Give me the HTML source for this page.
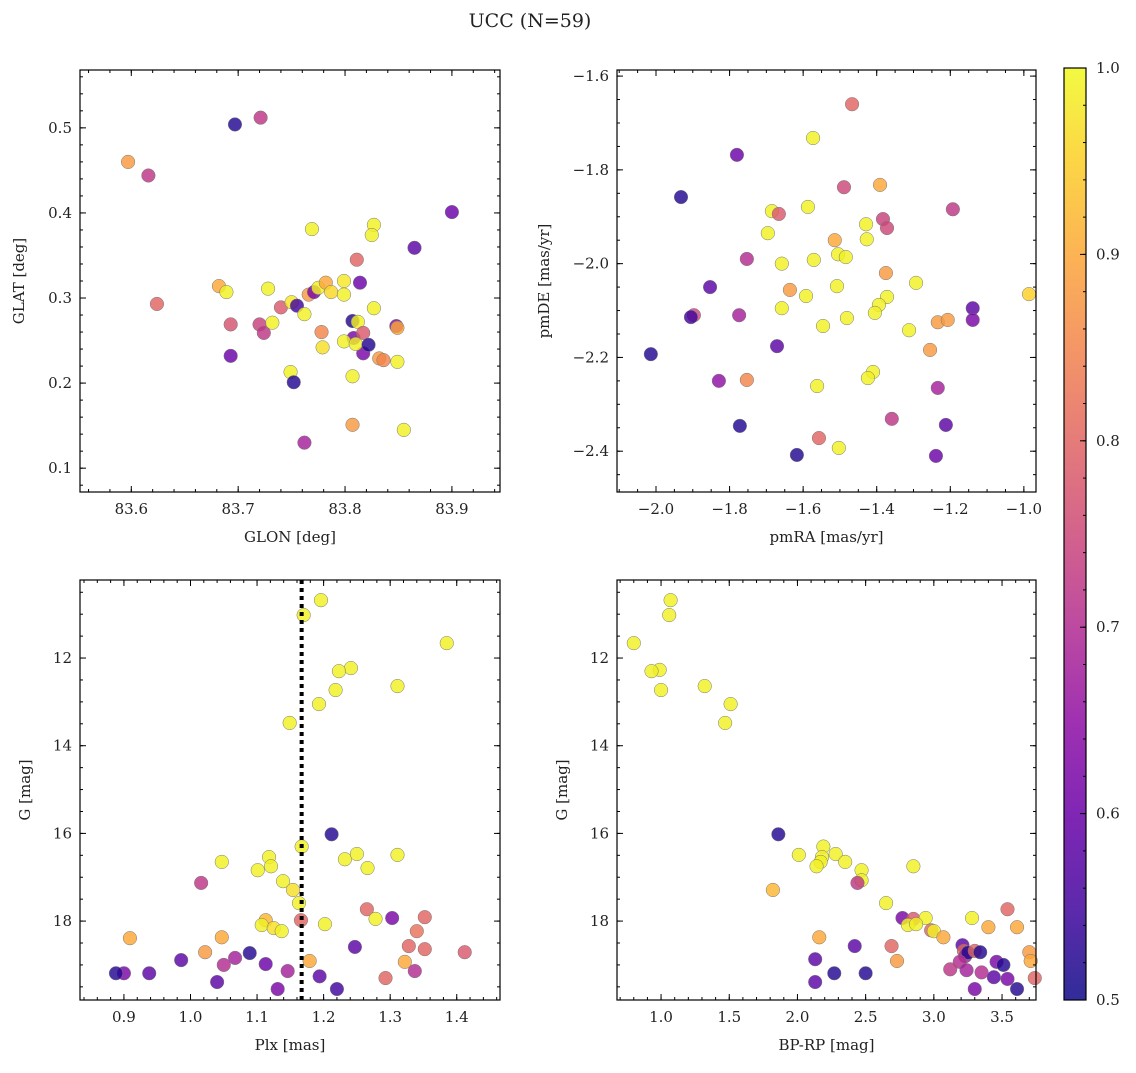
<!DOCTYPE html>
<html><head><meta charset="utf-8">
<style>
body{margin:0;background:#fff;}
svg text{font-family:"DejaVu Serif","Liberation Serif",serif;fill:#222;}
</style></head>
<body>
<svg id="fig" width="1136" height="1068" xmlns="http://www.w3.org/2000/svg">
<defs>
<linearGradient id="cbgrad" x1="0" y1="1" x2="0" y2="0">
<stop offset="0" stop-color="#0d0887"/><stop offset="0.1" stop-color="#41049d"/><stop offset="0.2" stop-color="#6a00a8"/><stop offset="0.3" stop-color="#8f0da4"/><stop offset="0.4" stop-color="#b12a90"/><stop offset="0.5" stop-color="#cc4778"/><stop offset="0.6" stop-color="#e16462"/><stop offset="0.7" stop-color="#f2844b"/><stop offset="0.8" stop-color="#fca636"/><stop offset="0.9" stop-color="#fcce25"/><stop offset="1" stop-color="#f0f921"/>
</linearGradient>
</defs>
<text x="530" y="27" font-size="19" text-anchor="middle">UCC (N=59)</text>
</svg>
<script>
// Panel 1: GLON vs GLAT
const glonX=[83.697,83.721,83.597,83.616,83.90,83.865,83.624,83.682,83.689,83.693,83.693,83.72,83.724,83.728,83.732,83.74,83.75,83.755,83.749,83.752,83.762,83.762,83.769,83.766,83.771,83.775,83.778,83.779,83.782,83.787,83.799,83.799,83.807,83.811,83.808,83.812,83.814,83.817,83.817,83.807,83.807,83.799,83.81,83.822,83.827,83.825,83.827,83.832,83.836,83.848,83.849,83.849,83.855];
const glatY=[0.504,0.512,0.46,0.444,0.401,0.359,0.293,0.314,0.307,0.269,0.232,0.269,0.259,0.311,0.271,0.289,0.295,0.291,0.213,0.201,0.281,0.13,0.381,0.304,0.307,0.312,0.26,0.242,0.318,0.307,0.32,0.304,0.273,0.345,0.253,0.272,0.318,0.259,0.235,0.208,0.151,0.249,0.246,0.245,0.386,0.374,0.288,0.229,0.227,0.267,0.265,0.225,0.145];
const glatP=[0.52,0.72,0.88,0.72,0.60,0.58,0.80,0.90,0.99,0.77,0.60,0.74,0.72,0.99,0.99,0.78,0.98,0.55,0.99,0.52,0.99,0.68,0.99,0.88,0.62,0.99,0.85,0.97,0.90,0.96,0.98,0.99,0.52,0.80,0.62,0.99,0.60,0.78,0.62,0.99,0.88,0.99,0.99,0.52,0.99,0.99,0.99,0.88,0.85,0.62,0.90,0.99,0.99];
// Panel 2: pmRA vs pmDE
const pmraX=[-1.467,-1.573,-1.78,-1.932,-1.489,-1.391,-1.685,-1.666,-1.587,-1.193,-1.383,-1.372,-1.429,-1.696,-1.427,-1.514,-1.505,-1.484,-1.571,-1.753,-1.658,-1.375,-1.293,-0.986,-1.853,-1.636,-1.592,-1.508,-1.372,-1.394,-1.405,-1.658,-1.897,-1.905,-1.774,-1.481,-1.546,-1.139,-1.139,-1.234,-1.207,-1.312,-1.671,-1.255,-2.014,-1.41,-1.424,-1.829,-1.753,-1.562,-1.234,-1.359,-1.772,-1.212,-1.557,-1.503,-1.617,-1.239];
const pmdeY=[-1.66,-1.732,-1.768,-1.858,-1.837,-1.832,-1.888,-1.894,-1.879,-1.884,-1.905,-1.924,-1.916,-1.935,-1.948,-1.95,-1.98,-1.986,-1.992,-1.99,-2.0,-2.02,-2.041,-2.065,-2.05,-2.056,-2.069,-2.048,-2.071,-2.088,-2.105,-2.095,-2.11,-2.114,-2.11,-2.116,-2.133,-2.095,-2.12,-2.125,-2.12,-2.142,-2.176,-2.184,-2.193,-2.231,-2.244,-2.25,-2.248,-2.261,-2.265,-2.331,-2.346,-2.344,-2.372,-2.393,-2.408,-2.41];
const pmP=[0.80,0.99,0.60,0.52,0.75,0.90,0.99,0.78,0.99,0.72,0.74,0.75,0.99,0.99,0.99,0.90,0.99,0.99,0.99,0.70,0.99,0.88,0.99,0.95,0.58,0.88,0.99,0.99,0.99,0.99,0.99,0.99,0.75,0.55,0.68,0.99,0.99,0.58,0.62,0.88,0.88,0.99,0.58,0.88,0.52,0.99,0.99,0.65,0.85,0.99,0.68,0.72,0.52,0.58,0.80,0.99,0.52,0.60];
// Panel 3: Plx vs G
const plxX=[1.196,1.17,1.385,1.241,1.223,1.218,1.311,1.193,1.149,1.212,1.167,1.047,1.118,1.121,1.101,1.232,1.25,1.266,1.311,1.016,1.139,1.154,1.163,1.265,1.278,1.303,1.352,1.113,1.166,1.202,1.107,1.125,1.137,1.34,0.909,1.047,1.328,1.352,1.247,1.022,1.089,1.412,1.067,1.179,0.986,1.322,1.05,1.113,1.146,1.337,0.9,0.888,0.938,1.194,1.293,1.04,1.131,1.22];
const plxG=[10.68,11.02,11.66,12.23,12.3,12.73,12.64,13.05,13.48,16.02,16.3,16.65,16.54,16.75,16.84,16.59,16.47,16.79,16.49,17.13,17.09,17.29,17.59,17.73,17.95,17.93,17.91,17.98,17.98,18.07,18.09,18.16,18.23,18.23,18.39,18.37,18.57,18.64,18.59,18.71,18.73,18.71,18.84,18.91,18.89,18.93,19.0,18.98,19.14,19.14,19.19,19.19,19.19,19.26,19.3,19.39,19.55,19.55];
const plxP=[0.99,0.99,0.99,0.99,0.99,0.99,0.99,0.99,0.99,0.52,0.99,0.99,0.99,0.99,0.99,0.99,0.99,0.99,0.99,0.72,0.99,0.97,0.99,0.80,0.99,0.62,0.80,0.92,0.80,0.99,0.99,0.97,0.99,0.82,0.90,0.90,0.80,0.80,0.58,0.88,0.52,0.78,0.68,0.90,0.58,0.90,0.70,0.60,0.68,0.70,0.62,0.52,0.58,0.58,0.80,0.58,0.62,0.55];
const plxLine=1.167;
// Panel 4: BP-RP vs G
const bprpX=[1.07,1.06,0.80,0.99,0.93,1.0,1.32,1.51,1.47,1.86,2.19,2.28,2.01,2.18,2.17,2.35,2.14,2.85,2.47,2.47,2.44,1.82,2.65,3.54,3.28,2.77,2.85,2.94,2.81,2.87,2.98,3.0,3.07,3.4,3.61,2.16,2.69,2.42,3.21,3.22,3.23,3.25,3.3,3.34,3.7,2.73,2.13,3.71,3.19,3.46,3.51,3.12,3.24,2.27,2.5,3.35,3.44,3.54,3.74,2.13,3.3,3.61];
const bprpG=[10.68,11.02,11.66,12.27,12.3,12.73,12.64,13.05,13.48,16.02,16.3,16.47,16.49,16.54,16.65,16.65,16.75,16.75,16.84,17.07,17.13,17.29,17.59,17.73,17.93,17.93,17.95,17.93,18.09,18.07,18.21,18.23,18.37,18.14,18.14,18.37,18.57,18.57,18.55,18.68,18.8,18.72,18.68,18.71,18.71,18.91,18.87,18.91,18.93,18.93,19.0,19.1,19.12,19.19,19.19,19.17,19.28,19.32,19.3,19.39,19.55,19.55];
const bprpP=[0.99,0.99,0.99,0.99,0.99,0.99,0.99,0.99,0.99,0.52,0.99,0.99,0.99,0.99,0.99,0.99,0.99,0.99,0.99,0.99,0.72,0.92,0.99,0.80,0.99,0.62,0.78,0.99,0.99,0.99,0.80,0.99,0.90,0.90,0.90,0.90,0.80,0.58,0.58,0.80,0.68,0.52,0.80,0.52,0.88,0.88,0.58,0.90,0.70,0.62,0.52,0.72,0.68,0.52,0.52,0.70,0.58,0.62,0.80,0.58,0.62,0.52];
const cbTicks=[0.5,0.6,0.7,0.8,0.9,1.0];

const NS='http://www.w3.org/2000/svg';
const svg=document.getElementById('fig');
const stops=[[0,13,8,135],[0.1,65,4,157],[0.2,106,0,168],[0.3,143,13,164],[0.4,177,42,144],[0.5,204,71,120],[0.6,225,100,98],[0.7,242,132,75],[0.8,252,166,54],[0.9,252,206,37],[1,240,249,33]];
function plasma(v){let t=Math.max(0,Math.min(1,(v-0.5)/0.5));for(let i=1;i<stops.length;i++){if(t<=stops[i][0]){const a=stops[i-1],b=stops[i],f=(t-a[0])/(b[0]-a[0]);return `rgb(${Math.round(a[1]+f*(b[1]-a[1]))},${Math.round(a[2]+f*(b[2]-a[2]))},${Math.round(a[3]+f*(b[3]-a[3]))})`;}}return 'rgb(240,249,33)';}
function el(tag,attrs,parent){const e=document.createElementNS(NS,tag);for(const k in attrs)e.setAttribute(k,attrs[k]);(parent||svg).appendChild(e);return e;}
function fmt(v,d){return v.toFixed(d).replace('-','\u2212');}

function panel(o){
  const g=el('g',{});
  
  
  const sx=v=>o.x0+(v-o.xmin)/(o.xmax-o.xmin)*(o.x1-o.x0);
  const sy=v=>o.yinv? o.y0+(v-o.ymin)/(o.ymax-o.ymin)*(o.y1-o.y0) : o.y1-(v-o.ymin)/(o.ymax-o.ymin)*(o.y1-o.y0);
  for(let i=0;i<o.xs.length;i++){
    const c=el('circle',{cx:sx(o.xs[i]),cy:sy(o.ys[i]),r:6.8,fill:plasma(o.ps[i]),'fill-opacity':0.82,stroke:'#777','stroke-width':0.5},g);
    
    
  }
  if(o.vline!==undefined){
    const l=el('line',{x1:sx(o.vline),x2:sx(o.vline),y1:o.y0,y2:o.y1,stroke:'#000','stroke-width':4,'stroke-dasharray':'4,4'},g);
    
    
  }
  const fr=el('rect',{x:o.x0,y:o.y0,width:o.x1-o.x0,height:o.y1-o.y0,fill:'none',stroke:'#000','stroke-width':1.2},g);
  
  
  const eps=1e-9;
  for(let v=Math.ceil(o.xmin/o.xminor-eps)*o.xminor;v<=o.xmax+eps;v+=o.xminor){
    const x=sx(v);el('line',{x1:x,x2:x,y1:o.y1,y2:o.y1-3,stroke:'#000','stroke-width':1},g);el('line',{x1:x,x2:x,y1:o.y0,y2:o.y0+3,stroke:'#000','stroke-width':1},g);}
  for(const v of o.xt){const x=sx(v);el('line',{x1:x,x2:x,y1:o.y1,y2:o.y1-6,stroke:'#000','stroke-width':1},g);el('line',{x1:x,x2:x,y1:o.y0,y2:o.y0+6,stroke:'#000','stroke-width':1},g);
    const t=el('text',{x:x,y:o.y1+22,'font-size':15,'text-anchor':'middle'},g);t.textContent=fmt(v,o.xd);
    
    }
  for(let v=Math.ceil(o.ymin/o.yminor-eps)*o.yminor;v<=o.ymax+eps;v+=o.yminor){
    const y=sy(v);el('line',{x1:o.x0,x2:o.x0+3,y1:y,y2:y,stroke:'#000','stroke-width':1},g);el('line',{x1:o.x1,x2:o.x1-3,y1:y,y2:y,stroke:'#000','stroke-width':1},g);}
  for(const v of o.yt){const y=sy(v);el('line',{x1:o.x0,x2:o.x0+6,y1:y,y2:y,stroke:'#000','stroke-width':1},g);el('line',{x1:o.x1,x2:o.x1-6,y1:y,y2:y,stroke:'#000','stroke-width':1},g);
    const t=el('text',{x:o.x0-8,y:y+5,'font-size':15,'text-anchor':'end'},g);t.textContent=fmt(v,o.yd);
    
    }
  const xl=el('text',{x:(o.x0+o.x1)/2,y:o.y1+50,'font-size':15,'text-anchor':'middle'},g);xl.textContent=o.xlabel;
  
  
  const yx=o.x0-o.ylabOff,yy=(o.y0+o.y1)/2;
  const yl=el('text',{x:yx,y:yy,'font-size':15,'text-anchor':'middle',transform:`rotate(-90 ${yx} ${yy})`},g);yl.textContent=o.ylabel;
  
  
}
panel({name:'glon-glat-panel',x0:80,x1:500,y0:70,y1:492,xmin:83.552,xmax:83.945,ymin:0.072,ymax:0.568,xs:glonX,ys:glatY,ps:glatP,xt:[83.6,83.7,83.8,83.9],xd:1,xminor:0.02,yt:[0.1,0.2,0.3,0.4,0.5],yd:1,yminor:0.02,xlabel:'GLON [deg]',ylabel:'GLAT [deg]',ylabOff:56});
panel({name:'pm-panel',x0:617,x1:1036,y0:70,y1:492,xmin:-2.106,xmax:-0.967,ymin:-2.487,ymax:-1.587,xs:pmraX,ys:pmdeY,ps:pmP,xt:[-2.0,-1.8,-1.6,-1.4,-1.2,-1.0],xd:1,xminor:0.05,yt:[-2.4,-2.2,-2.0,-1.8,-1.6],yd:1,yminor:0.05,xlabel:'pmRA [mas/yr]',ylabel:'pmDE [mas/yr]',ylabOff:68});
panel({name:'plx-g-panel',x0:80,x1:500,y0:580,y1:1000,xmin:0.834,xmax:1.465,ymin:10.22,ymax:19.8,yinv:true,xs:plxX,ys:plxG,ps:plxP,vline:plxLine,xt:[0.9,1.0,1.1,1.2,1.3,1.4],xd:1,xminor:0.02,yt:[12,14,16,18],yd:0,yminor:0.5,xlabel:'Plx [mas]',ylabel:'G [mag]',ylabOff:50});
panel({name:'cmd-panel',x0:617,x1:1036,y0:580,y1:1000,xmin:0.677,xmax:3.749,ymin:10.22,ymax:19.8,yinv:true,xs:bprpX,ys:bprpG,ps:bprpP,xt:[1.0,1.5,2.0,2.5,3.0,3.5],xd:1,xminor:0.1,yt:[12,14,16,18],yd:0,yminor:0.5,xlabel:'BP-RP [mag]',ylabel:'G [mag]',ylabOff:50});

const cb=el('g',{});


el('rect',{x:1064,y:68,width:22,height:932,fill:'url(#cbgrad)','fill-opacity':0.85},cb);
el('rect',{x:1064,y:68,width:22,height:932,fill:'none',stroke:'#000','stroke-width':1.2},cb);
for(let v=0.5;v<=1.0001;v+=0.02){const y=1000-(v-0.5)/0.5*932;el('line',{x1:1086,x2:1083,y1:y,y2:y,stroke:'#000'},cb);}
for(const v of cbTicks){const y=1000-(v-0.5)/0.5*932;el('line',{x1:1086,x2:1080,y1:y,y2:y,stroke:'#000'},cb);
  const t=el('text',{x:1096,y:y+5,'font-size':15},cb);t.textContent=v.toFixed(1);
  
  }
</script>
</body></html>
